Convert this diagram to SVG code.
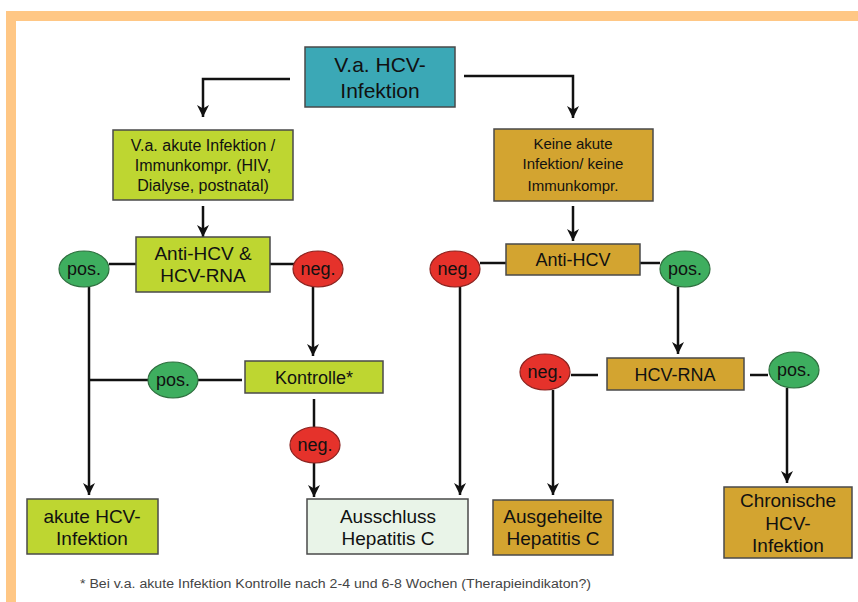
<svg xmlns="http://www.w3.org/2000/svg" width="858" height="602" viewBox="0 0 858 602">
<defs>
<style>
text{font-family:"Liberation Sans",Arial,sans-serif;fill:#111;text-anchor:middle}
.box{stroke:#4a4a4a;stroke-width:1.5}
.teal{fill:#3BA8B6}
.lime{fill:#BED631}
.gold{fill:#D3A430}
.pale{fill:#E9F4E8}
.pos{fill:#3EAE5F;stroke:#2f6f3f;stroke-width:1.2}
.neg{fill:#E5322B;stroke:#8a2320;stroke-width:1.2}
.conn{fill:none;stroke:#111;stroke-width:2.5}
.arr{marker-end:url(#ah)}
.f15{font-size:15px}
.f16{font-size:16px}
.f18{font-size:18px}
.f19{font-size:19px}
.f21{font-size:21px}
</style>
<marker id="ah" markerUnits="userSpaceOnUse" markerWidth="12" markerHeight="12" refX="10" refY="5" orient="auto" viewBox="0 0 10 10">
<path d="M0,0 L10,5 L0,10 L3,5 z" fill="#111"/>
</marker>
</defs>
<rect width="858" height="602" fill="#fff"/>
<path d="M11,602 L11,16 L858,16" fill="none" stroke="#FFC785" stroke-width="10"/>

<g id="connectors">
<polyline class="conn arr" points="290,79 203,79 203,117"/>
<polyline class="conn arr" points="464,76 573,76 573,118"/>
<line class="conn arr" x1="203" y1="206" x2="203" y2="237"/>
<line class="conn" x1="109" y1="264" x2="136" y2="264"/>
<line class="conn" x1="270" y1="264" x2="294" y2="264"/>
<line class="conn arr" x1="89" y1="287" x2="89" y2="495"/>
<line class="conn" x1="89" y1="380" x2="148" y2="380"/>
<line class="conn" x1="198" y1="380" x2="242" y2="380"/>
<line class="conn arr" x1="313" y1="287" x2="313" y2="356"/>
<line class="conn" x1="314" y1="399" x2="314" y2="427"/>
<line class="conn arr" x1="314" y1="463" x2="314" y2="497"/>
<line class="conn" x1="480" y1="263" x2="506" y2="263"/>
<line class="conn" x1="640" y1="263" x2="660" y2="263"/>
<line class="conn arr" x1="573" y1="206" x2="573" y2="241"/>
<line class="conn arr" x1="460" y1="287" x2="460" y2="495"/>
<line class="conn arr" x1="678" y1="287" x2="678" y2="354"/>
<line class="conn" x1="571" y1="375" x2="598" y2="375"/>
<line class="conn" x1="750" y1="375" x2="768" y2="375"/>
<line class="conn arr" x1="553" y1="390" x2="553" y2="495"/>
<line class="conn arr" x1="787" y1="388" x2="787" y2="483"/>
</g>

<g id="n-start">
<rect class="box teal" x="305" y="47" width="150" height="60"/>
<text class="f21" x="380" y="72">V.a. HCV-</text>
<text class="f21" x="380" y="98">Infektion</text>
</g>

<g id="n-akut-verdacht">
<rect class="box lime" x="113" y="130" width="180" height="70"/>
<text class="f16" x="203" y="151">V.a. akute Infektion /</text>
<text class="f16" x="203" y="171">Immunkompr. (HIV,</text>
<text class="f16" x="203" y="191">Dialyse, postnatal)</text>
</g>

<g id="n-anti-rna">
<rect class="box lime" x="136" y="237" width="134" height="55"/>
<text class="f19" x="203" y="260">Anti-HCV &amp;</text>
<text class="f19" x="203" y="282">HCV-RNA</text>
</g>

<g id="e-pos1">
<ellipse class="pos" cx="84" cy="269" rx="25" ry="18"/>
<text class="f18" x="84" y="275">pos.</text>
</g>

<g id="e-neg1">
<ellipse class="neg" cx="318" cy="269" rx="25" ry="18"/>
<text class="f18" x="318" y="275">neg.</text>
</g>

<g id="n-kontrolle">
<rect class="box lime" x="245" y="361" width="138" height="32"/>
<text class="f18" x="314" y="384">Kontrolle*</text>
</g>

<g id="e-pos2">
<ellipse class="pos" cx="173" cy="380" rx="25" ry="18"/>
<text class="f18" x="173" y="386">pos.</text>
</g>

<g id="e-neg2">
<ellipse class="neg" cx="315" cy="445" rx="25" ry="18"/>
<text class="f18" x="315" y="451">neg.</text>
</g>

<g id="n-akute-hcv">
<rect class="box lime" x="27" y="499" width="131" height="55"/>
<text class="f19" x="92" y="523">akute HCV-</text>
<text class="f19" x="92" y="545">Infektion</text>
</g>

<g id="n-ausschluss">
<rect class="box pale" x="307" y="499" width="161" height="55"/>
<text class="f19" x="388" y="523">Ausschluss</text>
<text class="f19" x="388" y="545">Hepatitis C</text>
</g>

<g id="n-keine">
<rect class="box gold" x="494" y="129" width="159" height="72"/>
<text class="f15" x="573" y="149">Keine akute</text>
<text class="f15" x="573" y="169">Infektion/ keine</text>
<text class="f15" x="573" y="191">Immunkompr.</text>
</g>

<g id="n-anti-hcv">
<rect class="box gold" x="506" y="244" width="134" height="31"/>
<text class="f18" x="573" y="266">Anti-HCV</text>
</g>

<g id="e-neg3">
<ellipse class="neg" cx="455" cy="269" rx="25" ry="18"/>
<text class="f18" x="455" y="275">neg.</text>
</g>

<g id="e-pos3">
<ellipse class="pos" cx="685" cy="269" rx="25" ry="18"/>
<text class="f18" x="685" y="275">pos.</text>
</g>

<g id="n-hcv-rna">
<rect class="box gold" x="607" y="358" width="137" height="32"/>
<text class="f18" x="675" y="381">HCV-RNA</text>
</g>

<g id="e-neg4">
<ellipse class="neg" cx="545" cy="372" rx="25" ry="18"/>
<text class="f18" x="545" y="378">neg.</text>
</g>

<g id="e-pos4">
<ellipse class="pos" cx="794" cy="370" rx="25" ry="18"/>
<text class="f18" x="794" y="376">pos.</text>
</g>

<g id="n-ausgeheilt">
<rect class="box gold" x="493" y="500" width="120" height="55"/>
<text class="f19" x="553" y="523">Ausgeheilte</text>
<text class="f19" x="553" y="545">Hepatitis C</text>
</g>

<g id="n-chronisch">
<rect class="box gold" x="724" y="487" width="128" height="71"/>
<text class="f19" x="788" y="507">Chronische</text>
<text class="f19" x="788" y="530">HCV-</text>
<text class="f19" x="788" y="552">Infektion</text>
</g>

<text x="80" y="588" style="font-size:12.5px;fill:#444;text-anchor:start" textLength="511" lengthAdjust="spacingAndGlyphs">* Bei v.a. akute Infektion Kontrolle nach 2-4 und 6-8 Wochen (Therapieindikaton?)</text>
</svg>
